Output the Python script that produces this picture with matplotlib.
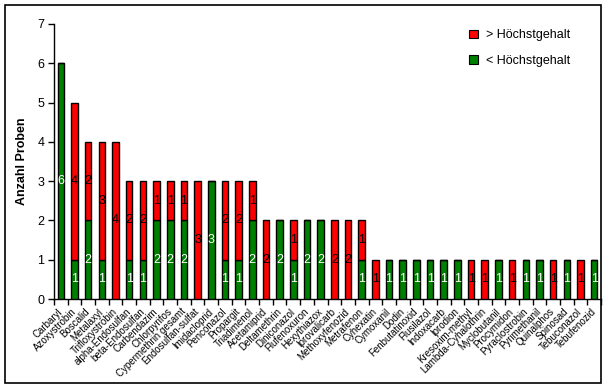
import matplotlib
matplotlib.use("Agg")
import matplotlib.pyplot as plt
from matplotlib.patches import Patch, Rectangle
import numpy as np

plt.rcParams['font.family'] = ['Liberation Sans', 'DejaVu Sans']

names = ["Carbaryl", "Azoxystrobin", "Boscalid", "Metalaxyl", "Trifloxystrobin",
         "alpha-Endosulfan", "beta-Endosulfan", "Carbendazim", "Chlorpyrifos",
         "Cypermethrin gesamt", "Endosulfan-sulfat", "Imidacloprid", "Penconazol",
         "Propargit", "Triadimenol", "Acetamiprid", "Deltamethrin", "Diniconazol",
         "Flufenoxuron", "Hexythiazox", "Iprovalicarb", "Methoxyfenozid", "Metrafenon",
         "Cyhexatin", "Cymoxanil", "Dodin", "Fenbutatinoxid", "Flusilazol", "Indoxacarb",
         "Iprodion", "Kresoxim-methyl", "Lambda-Cyhalothrin", "Myclobutanil",
         "Procymidon", "Pyraclostrobin", "Pyrimethanil", "Quinalphos", "Spinosad",
         "Tebuconazol", "Tebufenozid"]
below = [6, 1, 2, 1, 0, 1, 1, 2, 2, 2, 0, 3, 1, 1, 2, 0, 2, 1, 2, 2,
         0, 0, 1, 0, 1, 1, 1, 1, 1, 1, 0, 0, 1, 0, 1, 1, 0, 1, 0, 1]
above = [0, 4, 2, 3, 4, 2, 2, 1, 1, 1, 3, 0, 2, 2, 1, 2, 0, 1, 0, 0,
         2, 2, 1, 1, 0, 0, 0, 0, 0, 0, 1, 1, 0, 1, 0, 0, 1, 0, 1, 0]
yticks = [0, 1, 2, 3, 4, 5, 6, 7]

GREEN = "#008000"
RED = "#FF0000"

W, H = 605, 389
fig = plt.figure(figsize=(W / 100, H / 100), dpi=100)
ax = fig.add_axes([54 / W, 1 - 299 / H, (601 - 54) / W, (299 - 24) / H])

x = np.arange(len(names))
b = np.array(below)
a = np.array(above)
ax.bar(x, b, width=0.48, color=GREEN, edgecolor="black", linewidth=1.0, zorder=3)
ax.bar(x, a, width=0.48, bottom=b, color=RED, edgecolor="black", linewidth=1.0, zorder=3)

for i in range(len(names)):
    if b[i] > 0:
        ax.text(x[i], b[i] / 2, str(b[i]), ha="center", va="center",
                color="white", fontsize=9, zorder=4)
    if a[i] > 0:
        ax.text(x[i], b[i] + a[i] / 2, str(a[i]), ha="center", va="center",
                color="black", fontsize=9, zorder=4)

ax.set_xlim(-0.5, len(names) - 0.5)
ax.set_ylim(0, 7)
ax.set_yticks(yticks)
ax.set_yticklabels([str(t) for t in yticks], fontsize=9)
ax.set_xticks(x)
ax.set_xticklabels(names, rotation=45, ha="right", va="center",
                   rotation_mode="anchor", fontsize=7)
ax.tick_params(axis="x", which="major", length=0, pad=8)
ax.set_xticks(np.arange(-0.5, len(names)), minor=True)
ax.tick_params(axis="x", which="minor", length=4, width=1, direction="out")
ax.tick_params(axis="y", length=4, width=1, direction="out", pad=3)
for s in ["top", "right"]:
    ax.spines[s].set_visible(False)
ax.spines["left"].set_linewidth(1)
ax.spines["bottom"].set_linewidth(1)
ax.set_ylabel("Anzahl Proben", fontsize=9, fontweight="bold", labelpad=7)

handles = [Patch(facecolor=RED, edgecolor="black", linewidth=0.8),
           Patch(facecolor=GREEN, edgecolor="black", linewidth=0.8)]
fig.legend(handles, ["> Höchstgehalt", "< Höchstgehalt"], loc="upper left",
           bbox_to_anchor=(458 / W, 1 - 18 / H), frameon=False, fontsize=9,
           handlelength=0.7, handleheight=0.7, handletextpad=0.6, labelspacing=1.1)

fig.patches.append(Rectangle((5 / W, 1 - 383 / H), 596 / W, 378 / H,
                             transform=fig.transFigure, fill=False,
                             edgecolor="black", linewidth=1.2))

fig.savefig("out.png", dpi=100)
